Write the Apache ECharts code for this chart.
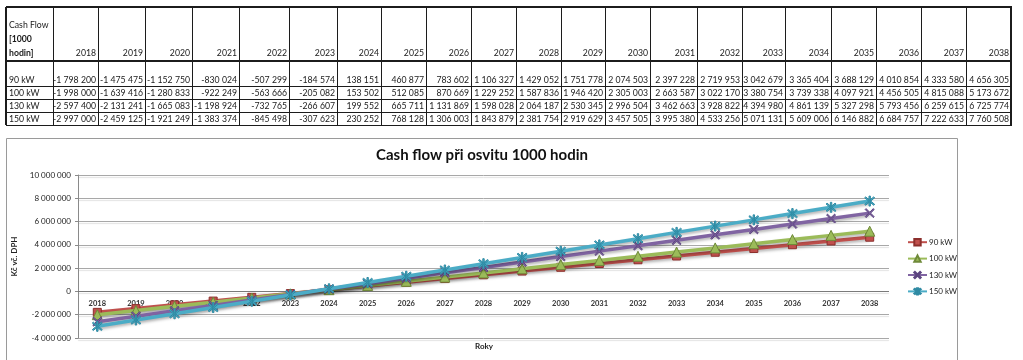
<!DOCTYPE html>
<html><head><meta charset="utf-8">
<script src="https://cdn.jsdelivr.net/npm/echarts@6/dist/echarts.min.js"></script>
<style>
html,body{margin:0;padding:0;background:#fff;}
#chart{position:absolute;left:0;top:0;width:1023px;height:360px;}
#table{position:absolute;left:0;top:0;width:1023px;height:130px;font-family:Lato,'Liberation Sans',sans-serif;font-size:8.7px;color:#1a1a1a;}
.cell{position:absolute;box-sizing:border-box;display:flex;flex-direction:column;justify-content:flex-end;white-space:nowrap;line-height:11px;padding-bottom:1px;}
.r{text-align:right;padding-right:2px;}
.l{text-align:left;padding-left:3px;}
.ln{position:absolute;background:#1c1c1c;}
</style></head><body>
<div id="chart"></div>
<div id="table"></div>
<script>
// ---- data ----
const years = ['2018','2019','2020','2021','2022','2023','2024','2025','2026','2027','2028','2029','2030','2031','2032','2033','2034','2035','2036','2037','2038'];
const seriesNames = ['90 kW','100 kW','130 kW','150 kW'];
const kw90  = [-1798200,-1475475,-1152750,-830024,-507299,-184574,138151,460877,783602,1106327,1429052,1751778,2074503,2397228,2719953,3042679,3365404,3688129,4010854,4333580,4656305];
const kw100 = [-1998000,-1639416,-1280833,-922249,-563666,-205082,153502,512085,870669,1229252,1587836,1946420,2305003,2663587,3022170,3380754,3739338,4097921,4456505,4815088,5173672];
const kw130 = [-2597400,-2131241,-1665083,-1198924,-732765,-266607,199552,665711,1131869,1598028,2064187,2530345,2996504,3462663,3928822,4394980,4861139,5327298,5793456,6259615,6725774];
const kw150 = [-2997000,-2459125,-1921249,-1383374,-845498,-307623,230252,768128,1306003,1843879,2381754,2919629,3457505,3995380,4533256,5071131,5609006,6146882,6684757,7222633,7760508];
const yTicks = {min:-4000000, max:10000000, interval:2000000};
const tableTitle = ['Cash Flow','[1000','hodin]'];
const chartTitle = 'Cash flow při osvitu 1000 hodin';
const xName = 'Roky';
const yName = 'Kč vč. DPH';

const seriesData = [kw90, kw100, kw130, kw150];
const fmt = v => (v < 0 ? '-' : '') + String(Math.abs(v)).replace(/\B(?=(\d{3})+(?!\d))/g, ' ');

// ---- table (HTML) ----
const colEdges = [6,53,98,145,192,239,289,337,381,426,471,516,561,605,650,697,742,785,831,876,921,966,1011];
const rowEdges = [7,61,86,99,112,125];
const tbl = document.getElementById('table');
function cell(x0,x1,y0,y1,html,cls,lh){
  const d=document.createElement('div');
  d.className='cell '+cls;
  d.style.left=x0+'px';d.style.top=y0+'px';d.style.width=(x1-x0)+'px';d.style.height=(y1-y0)+'px';
  if(lh) d.style.lineHeight=lh+'px';
  d.innerHTML=html;tbl.appendChild(d);
}
cell(colEdges[0],colEdges[1],rowEdges[0],rowEdges[1],
  '<div>'+tableTitle[0]+'</div><div style="font-weight:bold">'+tableTitle[1]+'</div><div style="font-weight:bold">'+tableTitle[2]+'</div>','l',14);
years.forEach((y,i)=>cell(colEdges[i+1],colEdges[i+2],rowEdges[0],rowEdges[1],'<div>'+y+'</div>','r',14));
seriesNames.forEach((n,r)=>{
  cell(colEdges[0],colEdges[1],rowEdges[r+1],rowEdges[r+2],'<div>'+n+'</div>','l');
  seriesData[r].forEach((v,i)=>cell(colEdges[i+1],colEdges[i+2],rowEdges[r+1],rowEdges[r+2],'<div>'+fmt(v)+'</div>','r'));
});
function line(x,y,w,h){const d=document.createElement('div');d.className='ln';d.style.left=x+'px';d.style.top=y+'px';d.style.width=w+'px';d.style.height=h+'px';tbl.appendChild(d);}
rowEdges.forEach((y,i)=>{const t=(i<2)?2:1;line(colEdges[0],y-t/2,colEdges[colEdges.length-1]-colEdges[0]+1,t);});
colEdges.forEach((x,i)=>{const t=(i===0||i===colEdges.length-1)?1.5:1;line(x-t/2,rowEdges[0],t,rowEdges[rowEdges.length-1]-rowEdges[0]);});

// ---- chart ----
const colors = ['#C0504D','#9BBB59','#8064A2','#4BACC6'];
const borders = ['#8c2f2c','#6f8a3a','#5c4580','#2f8aa3'];
const xPath = 'path://M0,1L1,0L5,4L9,0L10,1L6,5L10,9L9,10L5,6L1,10L0,9L4,5Z';
const starPath = 'path://M0,1L1,0L5,4L9,0L10,1L6,5L10,9L9,10L5,6L1,10L0,9L4,5ZM4.3,-1L5.7,-1L5.7,11L4.3,11Z';
const symbols = ['rect','triangle',xPath,starPath];
const symSizes = [8,10,9,10];
const font = 'Lato, "Liberation Sans", sans-serif';

const chart = echarts.init(document.getElementById('chart'));
chart.setOption({
  animation:false,
  backgroundColor:'#fff',
  textStyle:{fontFamily:font},
  grid:{left:78,right:134,top:175,bottom:22,containLabel:false,outerBoundsMode:'none'},
  xAxis:{type:'category',data:years,boundaryGap:true,
    axisLine:{show:false,onZero:false},
    axisTick:{show:false},
    axisLabel:{interval:0,margin:-38,fontSize:7.5,fontWeight:'bold',color:'#333',fontFamily:font}},
  yAxis:{type:'value',min:yTicks.min,max:yTicks.max,interval:yTicks.interval,
    name:yName,nameLocation:'middle',nameGap:50,nameRotate:90,
    nameTextStyle:{fontSize:8,fontWeight:'bold',color:'#222',fontFamily:font},
    axisLine:{show:true,lineStyle:{color:'#8a8a8a'}},
    axisTick:{show:true,length:3,lineStyle:{color:'#8a8a8a'}},
    axisLabel:{margin:7,fontSize:8,color:'#222',fontFamily:font,formatter:v=>fmt(v)},
    splitLine:{show:true,lineStyle:{color:'#a8a8a8',width:1,shadowColor:'rgba(0,0,0,0.12)',shadowOffsetY:2,shadowBlur:1}}},
  legend:{orient:'vertical',left:902,top:233,itemWidth:19,itemHeight:8,itemGap:8,
    data:seriesNames,
    textStyle:{fontSize:8,color:'#222',fontFamily:font,padding:[0,0,0,-3]}},
  graphic:[
    {type:'rect',shape:{x:6.5,y:138.5,width:951,height:240},style:{fill:'none',stroke:'#9a9a9a',lineWidth:1},silent:true},
    {type:'text',x:482,y:155,style:{text:chartTitle,font:'bold 15px '+font,fill:'#111',textAlign:'center',textVerticalAlign:'middle'}},
    {type:'text',x:484,y:346,style:{text:xName,font:'bold 8px '+font,fill:'#222',textAlign:'center',textVerticalAlign:'middle'}}
  ],
  series:seriesNames.map((n,i)=>({
    name:n,type:'line',data:seriesData[i],
    symbol:symbols[i],symbolSize:symSizes[i],showSymbol:true,
    lineStyle:{width:3.5,color:colors[i],shadowColor:'rgba(0,0,0,0.3)',shadowBlur:3,shadowOffsetY:2},
    itemStyle:{color:colors[i],borderColor:borders[i],borderWidth:1},
    markLine:i===0?{silent:true,symbol:['none','none'],label:{show:false},
      lineStyle:{color:'#7a7a7a',width:1,type:'solid'},data:[{yAxis:0}],z:1}:undefined,
    z:2+i
  }))
});
</script>
</body></html>
